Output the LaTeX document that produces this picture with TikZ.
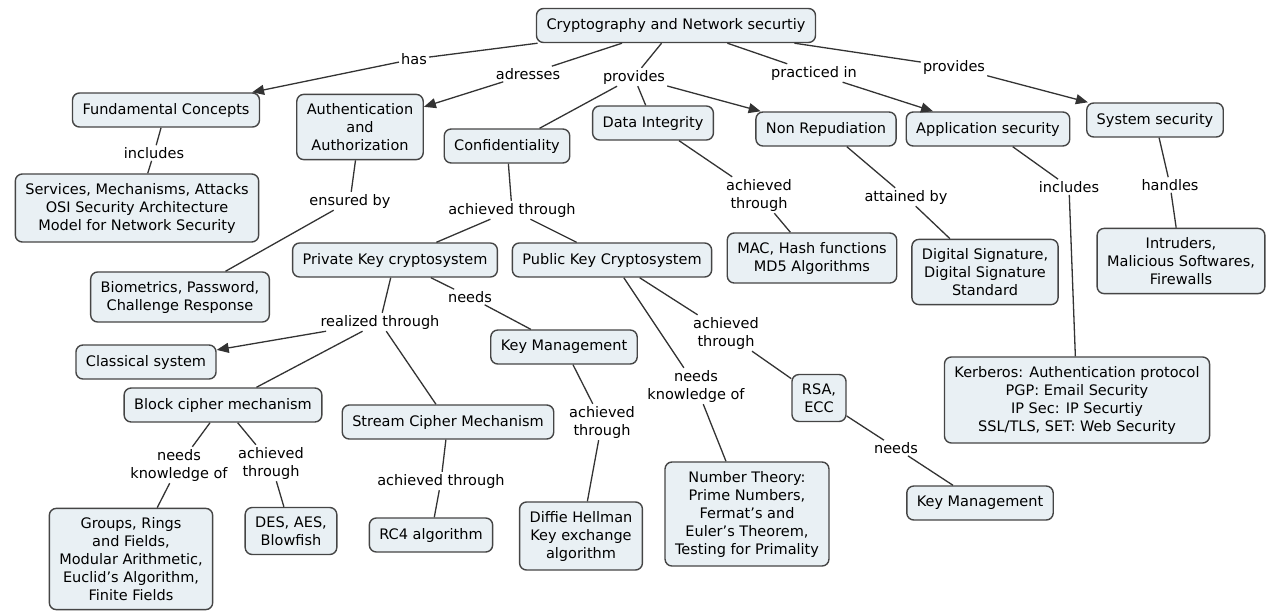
\documentclass[tikz,border=0pt]{standalone}
\usepackage{fontspec}
\setmainfont{DejaVu Sans}
\usepackage{tikz}
\usetikzlibrary{arrows.meta}
\definecolor{cmFill}{HTML}{E9F0F4}
\definecolor{cmEdge}{HTML}{454545}
\definecolor{cmLine}{HTML}{333333}
\tikzset{
  concept/.style={
    draw=cmEdge, fill=cmFill, rounded corners=7pt, line width=1.4pt,
    minimum height=34pt, inner xsep=10pt, inner ysep=9pt,
    align=center, font=\fontsize{14.5}{18}\selectfont
  },
  linklabel/.style={
    fill=white, inner sep=2pt, align=center,
    font=\fontsize{14.5}{18}\selectfont
  },
  link/.style={line width=1.3pt, cmLine},
  linkto/.style={link, -{Triangle[length=12pt, width=10pt]}}
}

\begin{document}
\begin{tikzpicture}[x=1pt, y=-1pt]
  \useasboundingbox (0,0) rectangle (1270,611);
  % concepts
  \node[concept] (root) at (676,25.5) {Cryptography and Network securtiy};
  \node[concept] (fc) at (166,110) {Fundamental Concepts};
  \node[concept] (auth) at (360,127) {Authentication\\and\\Authorization};
  \node[concept] (conf) at (507,146) {Confidentiality};
  \node[concept] (dint) at (653,123) {Data Integrity};
  \node[concept] (nrep) at (826,129) {Non Repudiation};
  \node[concept] (appsec) at (988,129) {Application security};
  \node[concept] (syssec) at (1155,120) {System security};
  \node[concept] (services) at (137,208) {Services, Mechanisms, Attacks\\OSI Security Architecture\\Model for Network Security};
  \node[concept] (biom) at (180,297) {Biometrics, Password,\\Challenge Response};
  \node[concept] (privk) at (395,260) {Private Key cryptosystem};
  \node[concept] (pubk) at (612,260) {Public Key Cryptosystem};
  \node[concept] (mac) at (812,258) {MAC, Hash functions\\MD5 Algorithms};
  \node[concept] (dsig) at (985,272) {Digital Signature,\\Digital Signature\\Standard};
  \node[concept] (intr) at (1181,261) {Intruders,\\Malicious Softwares,\\Firewalls};
  \node[concept] (classic) at (146,362) {Classical system};
  \node[concept] (keymgmt) at (564,347) {Key Management};
  \node[concept] (block) at (223,405) {Block cipher mechanism};
  \node[concept] (stream) at (448,422) {Stream Cipher Mechanism};
  \node[concept] (groups) at (131,559) {Groups, Rings\\and Fields,\\Modular Arithmetic,\\Euclid’s Algorithm,\\Finite Fields};
  \node[concept] (des) at (291,531) {DES, AES,\\Blowfish};
  \node[concept] (rc4) at (431,535) {RC4 algorithm};
  \node[concept] (diffie) at (581,536) {Diffie Hellman\\Key exchange\\algorithm};
  \node[concept] (numth) at (747,514) {Number Theory:\\Prime Numbers,\\Fermat’s and\\Euler’s Theorem,\\Testing for Primality};
  \node[concept] (rsa) at (819,398) {RSA,\\ECC};
  \node[concept] (keymgmtb) at (980,503) {Key Management};
  \node[concept] (kerb) at (1077,400) {Kerberos: Authentication protocol\\PGP: Email Security\\IP Sec: IP Securtiy\\SSL/TLS, SET: Web Security};

  % linking phrases
  \node[linklabel] (lhas) at (414,59) {has};
  \node[linklabel] (ladr) at (528,74) {adresses};
  \node[linklabel] (lprov) at (634,77) {provides};
  \node[linklabel] (lprac) at (814,73) {practiced in};
  \node[linklabel] (lprovb) at (954,67) {provides};
  \node[linklabel] (lincl) at (154,153) {includes};
  \node[linklabel] (lens) at (350,201) {ensured by};
  \node[linklabel] (lach) at (512,210) {achieved through};
  \node[linklabel] (lachdi) at (759,195) {achieved\\through};
  \node[linklabel] (latt) at (906,197) {attained by};
  \node[linklabel] (linclb) at (1069,187) {includes};
  \node[linklabel] (lhand) at (1170,185) {handles};
  \node[linklabel] (lneeds) at (470,297) {needs};
  \node[linklabel] (lachpub) at (726,333) {achieved\\through};
  \node[linklabel] (lreal) at (380,322) {realized through};
  \node[linklabel] (lnkpub) at (696,386) {needs\\knowledge of};
  \node[linklabel] (lnkblk) at (179,465) {needs\\knowledge of};
  \node[linklabel] (lachblk) at (271,463) {achieved\\through};
  \node[linklabel] (lachstr) at (441,481) {achieved through};
  \node[linklabel] (lachkm) at (602,422) {achieved\\through};
  \node[linklabel] (lneedsb) at (896,448) {needs};

  % plain connectors
  \foreach \s/\e in {root/lhas, root/ladr, root/lprov, root/lprac, root/lprovb,
    lprov/conf, lprov/dint, fc/lincl, lincl/services, auth/lens, lens/biom,
    conf/lach, lach/privk, lach/pubk, dint/lachdi, lachdi/mac, nrep/latt, latt/dsig,
    appsec/linclb, linclb/kerb, syssec/lhand, lhand/intr, privk/lneeds, lneeds/keymgmt,
    privk/lreal, lreal/block, lreal/stream, pubk/lachpub, lachpub/rsa, pubk/lnkpub,
    lnkpub/numth, block/lnkblk, lnkblk/groups, block/lachblk, lachblk/des,
    stream/lachstr, lachstr/rc4, keymgmt/lachkm, lachkm/diffie, rsa/lneedsb,
    lneedsb/keymgmtb}{\draw[link] (\s) -- (\e);}
  % arrowed connectors
  \foreach \s/\e in {lhas/fc, ladr/auth, lprov/nrep, lprac/appsec, lprovb/syssec,
    lreal/classic}{\draw[linkto] (\s) -- (\e);}
\end{tikzpicture}
\end{document}
